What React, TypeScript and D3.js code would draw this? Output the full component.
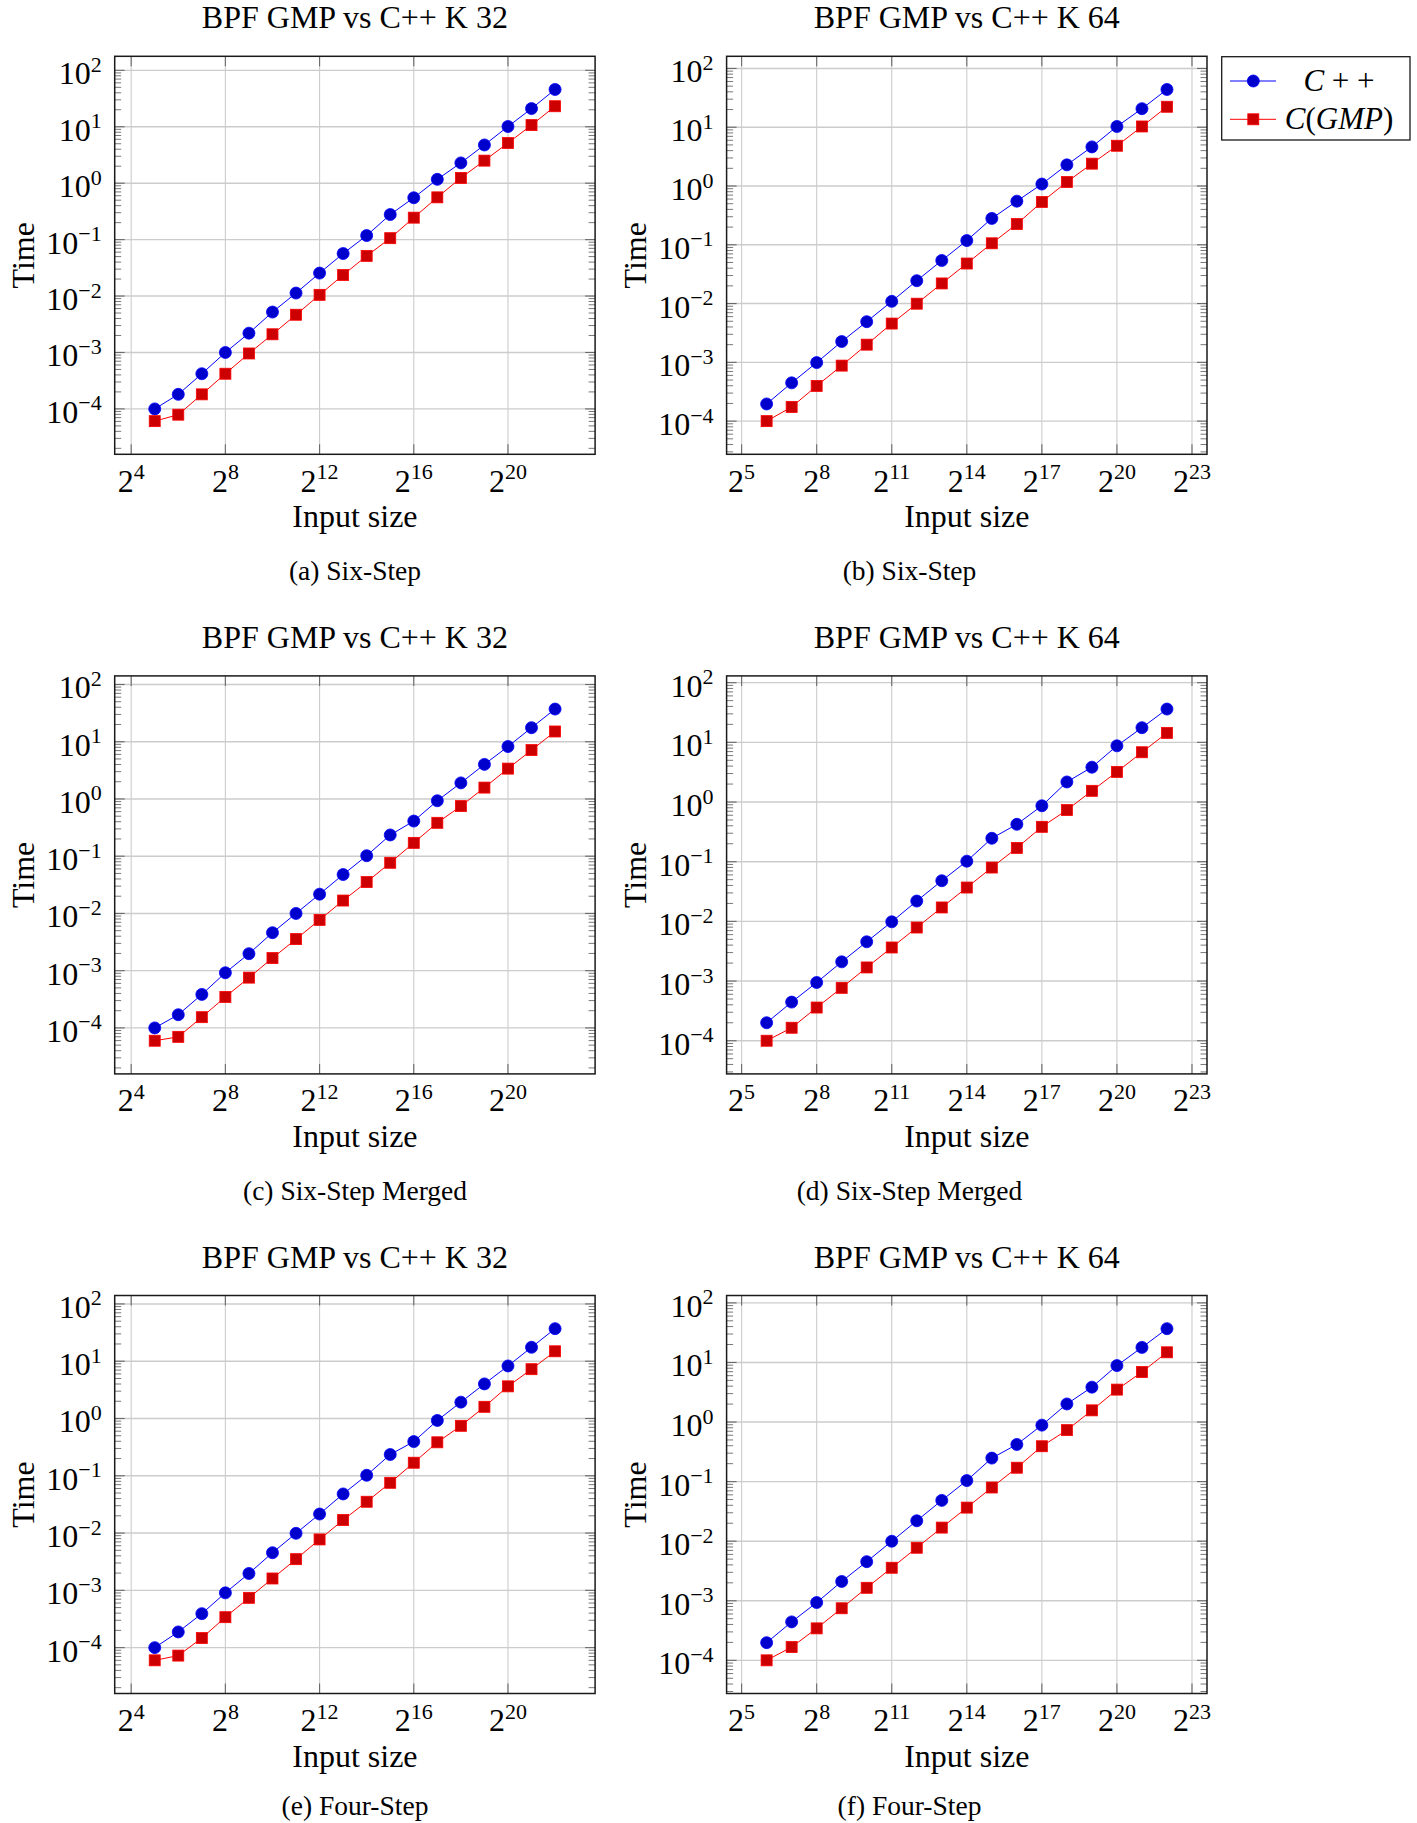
import React from "react";
import { scaleLog, line, extent } from "d3";

// input sizes are 2^k, k listed here
const k32Exponents = [5, 6, 7, 8, 9, 10, 11, 12, 13, 14, 15, 16, 17, 18, 19, 20, 21, 22];
const k64Exponents = [6, 7, 8, 9, 10, 11, 12, 13, 14, 15, 16, 17, 18, 19, 20, 21, 22];

const k32XTicks = [4, 8, 12, 16, 20];
const k64XTicks = [5, 8, 11, 14, 17, 20, 23];
const yTickExponents = [-4, -3, -2, -1, 0, 1, 2];

// times (seconds)
const sixStepK32Cpp = [1e-4, 1.81e-4, 4.2e-4, 1.0e-3, 2.2e-3, 5.2e-3, 1.13e-2, 2.55e-2, 5.66e-2, 0.118, 0.278, 0.552, 1.17, 2.29, 4.76, 10.1, 21, 45.8];
const sixStepK32Gmp = [6.07e-5, 7.9e-5, 1.81e-4, 4.2e-4, 9.6e-4, 2.1e-3, 4.66e-3, 1.05e-2, 2.36e-2, 5.15e-2, 0.106, 0.245, 0.561, 1.24, 2.51, 5.15, 10.7, 23.1];
const sixStepK64Cpp = [1.96e-4, 4.48e-4, 9.9e-4, 2.26e-3, 4.92e-3, 1.09e-2, 2.45e-2, 5.41e-2, 0.118, 0.281, 0.552, 1.08, 2.29, 4.63, 10.3, 20.7, 43.9];
const sixStepK64Gmp = [1e-4, 1.74e-4, 3.97e-4, 8.8e-4, 2.0e-3, 4.57e-3, 9.95e-3, 2.2e-2, 4.8e-2, 0.106, 0.225, 0.536, 1.17, 2.4, 4.84, 10.3, 22.3];

const mergedK32Cpp = [1e-4, 1.7e-4, 3.85e-4, 9.2e-4, 1.98e-3, 4.61e-3, 1e-2, 2.17e-2, 4.78e-2, 0.102, 0.235, 0.411, 0.931, 1.91, 4.02, 8.24, 17.6, 37.2];
const mergedK32Gmp = [5.97e-5, 6.98e-5, 1.54e-4, 3.48e-4, 7.56e-4, 1.66e-3, 3.56e-3, 7.72e-3, 1.68e-2, 3.53e-2, 7.67e-2, 0.171, 0.383, 0.75, 1.58, 3.39, 7.14, 15.1];
const mergedK64Cpp = [2.0e-4, 4.44e-4, 9.46e-4, 2.1e-3, 4.55e-3, 9.84e-3, 2.19e-2, 4.8e-2, 0.102, 0.247, 0.423, 0.865, 2.17, 3.83, 8.74, 17.6, 36.1];
const mergedK64Gmp = [1e-4, 1.65e-4, 3.6e-4, 7.7e-4, 1.69e-3, 3.65e-3, 7.89e-3, 1.71e-2, 3.69e-2, 7.98e-2, 0.17, 0.384, 0.733, 1.54, 3.2, 6.82, 14.4];

const fourStepK32Cpp = [1e-4, 1.88e-4, 3.92e-4, 9.04e-4, 1.97e-3, 4.54e-3, 9.9e-3, 2.15e-2, 4.82e-2, 0.102, 0.235, 0.395, 0.925, 1.93, 4.02, 8.27, 17.5, 37];
const fourStepK32Gmp = [6.0e-5, 7.26e-5, 1.47e-4, 3.4e-4, 7.4e-4, 1.61e-3, 3.5e-3, 7.74e-3, 1.69e-2, 3.52e-2, 7.54e-2, 0.169, 0.384, 0.745, 1.6, 3.64, 7.26, 14.9];
const fourStepK64Cpp = [1.98e-4, 4.42e-4, 9.33e-4, 2.11e-3, 4.53e-3, 9.97e-3, 2.2e-2, 4.84e-2, 0.104, 0.248, 0.42, 0.887, 2.01, 3.85, 8.85, 17.9, 36.9];
const fourStepK64Gmp = [1e-4, 1.67e-4, 3.44e-4, 7.48e-4, 1.65e-3, 3.58e-3, 7.76e-3, 1.69e-2, 3.66e-2, 7.96e-2, 0.171, 0.392, 0.731, 1.57, 3.5, 6.9, 14.8];

const panels = [
  { title: "BPF GMP vs C++ K 32", caption: "(a) Six-Step", exps: k32Exponents, xTicks: k32XTicks, cpp: sixStepK32Cpp, gmp: sixStepK32Gmp, col: 0, row: 0 },
  { title: "BPF GMP vs C++ K 64", caption: "(b) Six-Step", exps: k64Exponents, xTicks: k64XTicks, cpp: sixStepK64Cpp, gmp: sixStepK64Gmp, col: 1, row: 0, legend: true },
  { title: "BPF GMP vs C++ K 32", caption: "(c) Six-Step Merged", exps: k32Exponents, xTicks: k32XTicks, cpp: mergedK32Cpp, gmp: mergedK32Gmp, col: 0, row: 1 },
  { title: "BPF GMP vs C++ K 64", caption: "(d) Six-Step Merged", exps: k64Exponents, xTicks: k64XTicks, cpp: mergedK64Cpp, gmp: mergedK64Gmp, col: 1, row: 1 },
  { title: "BPF GMP vs C++ K 32", caption: "(e) Four-Step", exps: k32Exponents, xTicks: k32XTicks, cpp: fourStepK32Cpp, gmp: fourStepK32Gmp, col: 0, row: 2 },
  { title: "BPF GMP vs C++ K 64", caption: "(f) Four-Step", exps: k64Exponents, xTicks: k64XTicks, cpp: fourStepK64Cpp, gmp: fourStepK64Gmp, col: 1, row: 2 },
];

const FONT = "'Liberation Serif', 'Times New Roman', serif";
const cols = [
  { left: 114.7, right: 595.1, captionX: 355 },
  { left: 726.6, right: 1207, captionX: 909.5 },
];
const rowStep = 619.6;
const BLUE = "#0000ff", BLUE_FILL = "#0000cc";
const RED = "#ff0000", RED_FILL = "#cc0000";
const GRID = "#cccccc";
const TICK = "#6a6a6a";

// pgfplots-ish enlargelimits=0.1 in log space
function enlarged(lo: number, hi: number, base: number) {
  const a = Math.log(lo) / Math.log(base);
  const b = Math.log(hi) / Math.log(base);
  const pad = (b - a) * 0.1;
  return [Math.pow(base, a - pad), Math.pow(base, b + pad)];
}

const sup = (n: number) => (n < 0 ? "\u2212" + Math.abs(n) : String(n));

function Panel({ p }: { p: typeof panels[number] }) {
  const c = cols[p.col];
  const top = 56.3 + p.row * rowStep;
  const bottom = 454.3 + p.row * rowStep;
  const sizes = p.exps.map((e) => Math.pow(2, e));

  const [xMin, xMax] = extent(sizes) as [number, number];
  const x = scaleLog().base(2).domain(enlarged(xMin, xMax, 2)).range([c.left, c.right]);
  const [yMin, yMax] = extent([...p.cpp, ...p.gmp]) as [number, number];
  const y = scaleLog().domain(enlarged(yMin, yMax, 10)).range([bottom, top]);

  const [d0, d1] = y.domain();
  const minor: number[] = [];
  for (let k = Math.floor(Math.log10(d0)); k <= Math.ceil(Math.log10(d1)); k++) {
    for (let m = 2; m <= 9; m++) {
      const v = m * Math.pow(10, k);
      if (v >= d0 && v <= d1) minor.push(v);
    }
  }

  const path = line<number>()
    .x((_, i) => x(sizes[i]))
    .y((d) => y(d));

  const midY = (top + bottom) / 2;
  const midX = (c.left + c.right) / 2;
  const titleY = 28.3 + p.row * rowStep;
  // last row sits on the page edge; keep the caption just inside it
  const captionY = Math.min(580 + p.row * rowStep, 1815);

  return (
    <g fontFamily={FONT} fill="#000">
      <text x={midX} y={titleY} fontSize={32} textAnchor="middle">{p.title}</text>

      {/* grid */}
      {p.xTicks.map((e) => (
        <line key={"gx" + e} x1={x(Math.pow(2, e))} x2={x(Math.pow(2, e))} y1={top} y2={bottom} stroke={GRID} strokeWidth={1.1} />
      ))}
      {yTickExponents.map((e) => (
        <line key={"gy" + e} x1={c.left} x2={c.right} y1={y(Math.pow(10, e))} y2={y(Math.pow(10, e))} stroke={GRID} strokeWidth={1.4} />
      ))}

      {/* ticks */}
      {minor.map((v, i) => (
        <g key={"mn" + i} stroke={TICK} strokeWidth={0.9}>
          <line x1={c.left} x2={c.left + 6.5} y1={y(v)} y2={y(v)} />
          <line x1={c.right} x2={c.right - 6.5} y1={y(v)} y2={y(v)} />
        </g>
      ))}
      {yTickExponents.map((e) => (
        <g key={"my" + e} stroke={TICK} strokeWidth={1.1}>
          <line x1={c.left} x2={c.left + 10} y1={y(Math.pow(10, e))} y2={y(Math.pow(10, e))} />
          <line x1={c.right} x2={c.right - 10} y1={y(Math.pow(10, e))} y2={y(Math.pow(10, e))} />
        </g>
      ))}
      {p.xTicks.map((e) => (
        <g key={"mx" + e} stroke={TICK} strokeWidth={1.1}>
          <line x1={x(Math.pow(2, e))} x2={x(Math.pow(2, e))} y1={bottom} y2={bottom - 10} />
          <line x1={x(Math.pow(2, e))} x2={x(Math.pow(2, e))} y1={top} y2={top + 10} />
        </g>
      ))}

      <rect x={c.left} y={top} width={c.right - c.left} height={bottom - top} fill="none" stroke="#1a1a1a" strokeWidth={1.5} />

      {/* tick labels */}
      {yTickExponents.map((e) => (
        <text key={"ly" + e} x={c.left - 13} y={y(Math.pow(10, e)) + 14} fontSize={32} textAnchor="end">
          10<tspan dy={-12.5} fontSize={22}>{sup(e)}</tspan>
        </text>
      ))}
      {p.xTicks.map((e) => (
        <text key={"lx" + e} x={x(Math.pow(2, e))} y={bottom + 37.5} fontSize={32} textAnchor="middle">
          2<tspan dy={-12.5} fontSize={22}>{sup(e)}</tspan>
        </text>
      ))}

      <text x={midX} y={bottom + 73} fontSize={32} textAnchor="middle">Input size</text>
      <text transform={`translate(${c.left - 81},${midY}) rotate(-90)`} fontSize={32} textAnchor="middle">Time</text>
      <text x={c.captionX} y={captionY} fontSize={27.5} textAnchor="middle">{p.caption}</text>

      {/* series */}
      <path d={path(p.cpp) || ""} fill="none" stroke={BLUE} strokeWidth={1} />
      <path d={path(p.gmp) || ""} fill="none" stroke={RED} strokeWidth={1} />
      {p.cpp.map((v, i) => (
        <circle key={"c" + i} cx={x(sizes[i])} cy={y(v)} r={6} fill={BLUE_FILL} stroke={BLUE} strokeWidth={0.8} />
      ))}
      {p.gmp.map((v, i) => (
        <rect key={"s" + i} x={x(sizes[i]) - 5.5} y={y(v) - 5.5} width={11} height={11} fill={RED_FILL} stroke={RED} strokeWidth={0.8} />
      ))}

      {p.legend && <Legend />}
    </g>
  );
}

function Legend() {
  const lx = 1221.7, ly = 56.7, lw = 188.3, lh = 83.3;
  const rows = [
    { cy: 81, color: BLUE, fill: BLUE_FILL, kind: "circle" },
    { cy: 119.3, color: RED, fill: RED_FILL, kind: "square" },
  ];
  return (
    <g>
      <rect x={lx} y={ly} width={lw} height={lh} fill="#fff" stroke="#1a1a1a" strokeWidth={1.3} />
      {rows.map((r) => (
        <g key={r.kind}>
          <line x1={1230} x2={1276} y1={r.cy} y2={r.cy} stroke={r.color} strokeWidth={1} />
          {r.kind === "circle" ? (
            <circle cx={1253.3} cy={r.cy} r={6} fill={r.fill} stroke={r.color} strokeWidth={0.8} />
          ) : (
            <rect x={1253.3 - 5.5} y={r.cy - 5.5} width={11} height={11} fill={r.fill} stroke={r.color} strokeWidth={0.8} />
          )}
        </g>
      ))}
      <text x={1339} y={90.7} fontSize={31} textAnchor="middle" fontFamily={FONT}>
        <tspan fontStyle="italic">C</tspan> + +
      </text>
      <text x={1339} y={129} fontSize={31} textAnchor="middle" fontFamily={FONT}>
        <tspan fontStyle="italic">C</tspan>(<tspan fontStyle="italic">GMP</tspan>)
      </text>
    </g>
  );
}

export default function App() {
  return (
    <svg width={1417} height={1823} style={{ position: "absolute", left: 0, top: 0, background: "#fff" }}>
      <rect width={1417} height={1823} fill="#fff" />
      {panels.map((p) => (
        <Panel key={p.caption} p={p} />
      ))}
    </svg>
  );
}
